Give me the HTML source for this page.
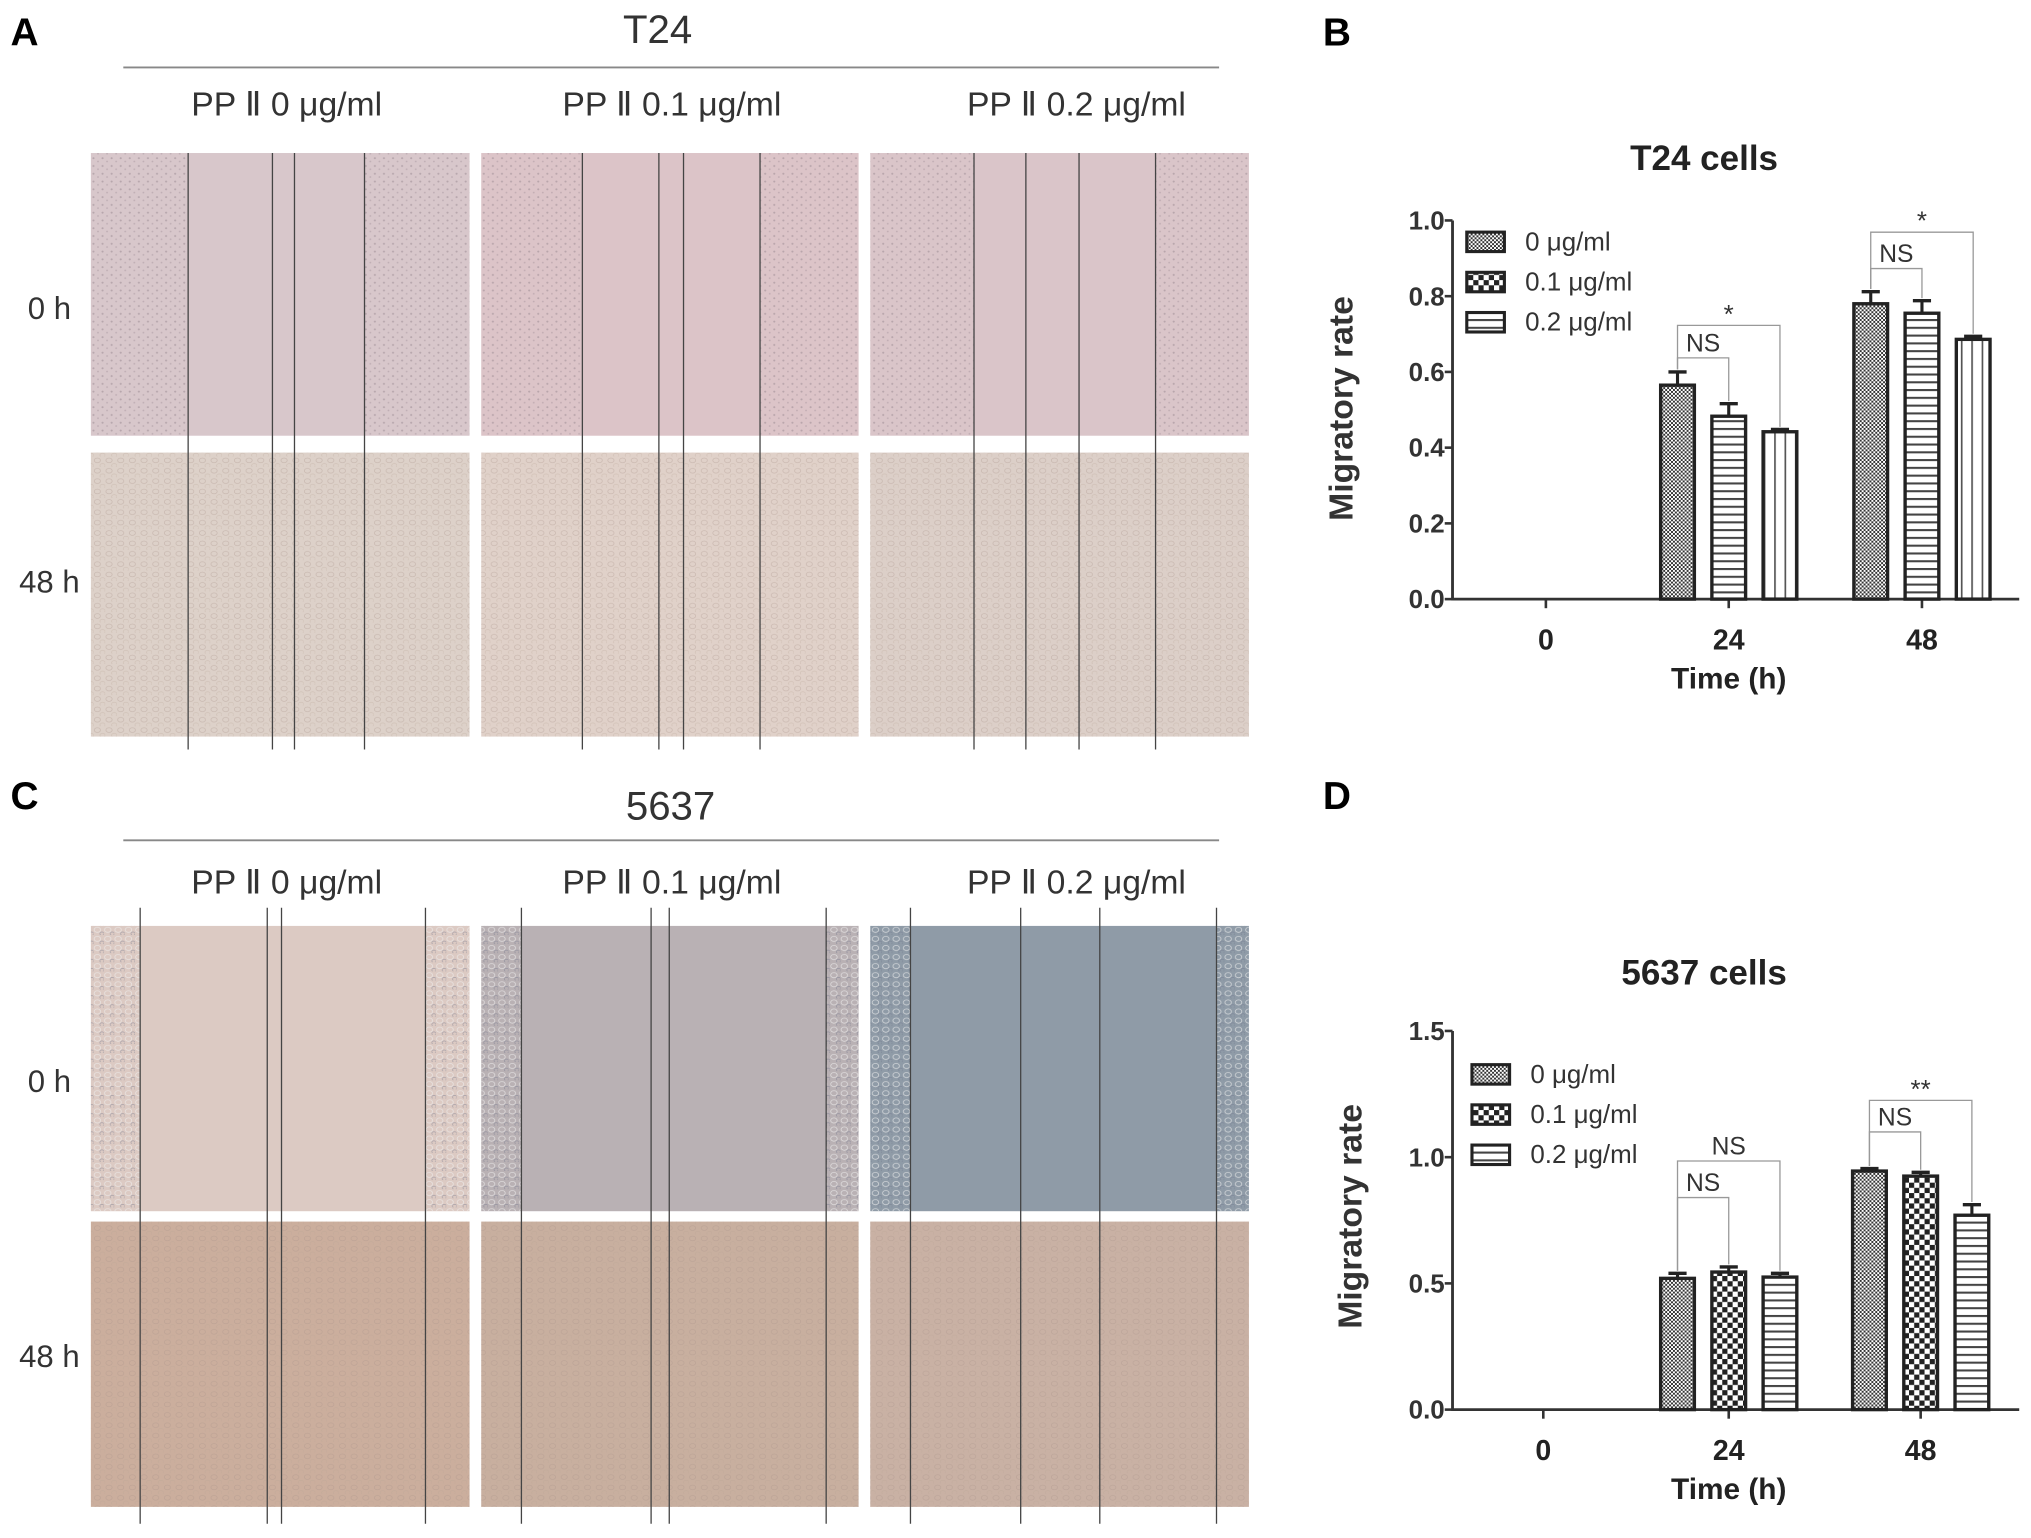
<!DOCTYPE html>
<html><head><meta charset="utf-8"><style>
html,body{margin:0;padding:0;background:#fff;}
svg{display:block;}
text{font-family:"Liberation Sans",Arial,sans-serif;}
</style></head><body>
<svg id="fig" width="2031" height="1538" viewBox="0 0 1566 1186" xmlns="http://www.w3.org/2000/svg">
<defs>
<pattern id="pFine" width="3" height="3" patternUnits="userSpaceOnUse"><rect width="3" height="3" fill="#fff"/><rect width="1.5" height="1.5" fill="#333"/><rect x="1.5" y="1.5" width="1.5" height="1.5" fill="#333"/></pattern>
<pattern id="pCoarse" width="8" height="8" patternUnits="userSpaceOnUse"><rect width="8" height="8" fill="#fff"/><rect width="4" height="4" fill="#222"/><rect x="4" y="4" width="4" height="4" fill="#222"/></pattern>
<pattern id="pHor" width="6" height="6" patternUnits="userSpaceOnUse"><rect width="6" height="6" fill="#fff"/><rect y="0" width="6" height="1.6" fill="#444"/></pattern>
<pattern id="pVer" width="8" height="8" patternUnits="userSpaceOnUse"><rect width="8" height="8" fill="#fff"/><rect x="0" width="1.3" height="8" fill="#555"/></pattern>
<pattern id="cellsA" width="7" height="6" patternUnits="userSpaceOnUse"><circle cx="2" cy="2" r="0.8" fill="#8e7f88" opacity="0.45"/><circle cx="5.5" cy="4.5" r="0.7" fill="#8e7f88" opacity="0.35"/></pattern>
<pattern id="cellsB" width="9" height="8" patternUnits="userSpaceOnUse"><ellipse cx="3" cy="3" rx="2.4" ry="1.8" fill="none" stroke="#a8938a" stroke-width="0.5" opacity="0.45"/><ellipse cx="7" cy="7" rx="2" ry="1.5" fill="none" stroke="#b7a293" stroke-width="0.5" opacity="0.4"/></pattern>
<pattern id="cellsC" width="8" height="7" patternUnits="userSpaceOnUse"><ellipse cx="3" cy="3" rx="2.5" ry="2" fill="none" stroke="#eee" stroke-width="0.6" opacity="0.7"/><ellipse cx="6.5" cy="6" rx="1.6" ry="1.3" fill="none" stroke="#6a6f88" stroke-width="0.5" opacity="0.5"/></pattern>
</defs>

<text x="8" y="35" font-size="30" font-weight="bold">A</text>
<text x="1020" y="35" font-size="30" font-weight="bold">B</text>
<text x="8" y="624" font-size="30" font-weight="bold">C</text>
<text x="1020" y="624" font-size="30" font-weight="bold">D</text>

<g id="panelA"></g>
<g id="panelC"></g>
<g id="chartB"></g>
<g id="chartD"></g>
</svg>
<script>
// ---- Chart B data (T24) ----
const catsB = ["0","24","48"];
const s0B = [0, 0.565, 0.78];
const s1B = [0, 0.483, 0.755];
const s2B = [0, 0.442, 0.686];
const e0B = [0, 0.035, 0.032];
const e1B = [0, 0.033, 0.033];
const e2B = [0, 0.006, 0.008];
const ticksB = ["0.0","0.2","0.4","0.6","0.8","1.0"];
// ---- Chart D data (5637) ----
const catsD = ["0","24","48"];
const s0D = [0, 0.52, 0.945];
const s1D = [0, 0.545, 0.925];
const s2D = [0, 0.525, 0.77];
const e0D = [0, 0.02, 0.01];
const e1D = [0, 0.02, 0.015];
const e2D = [0, 0.015, 0.042];
const ticksD = ["0.0","0.5","1.0","1.5"];
const legendLabels = ["0 μg/ml","0.1 μg/ml","0.2 μg/ml"];

const NS = "http://www.w3.org/2000/svg";
function mk(parent, tag, attrs, txt){
  const e=document.createElementNS(NS,tag);
  for(const k in attrs) e.setAttribute(k,attrs[k]);
  if(txt!==undefined) e.textContent=txt;
  parent.appendChild(e); return e;
}

function drawChart(g, o){
  const y = v => o.y0 - (v/o.ymax)*(o.y0-o.ytop);
  const x = i => o.xt[i];
  let t=mk(g,'text',{x:o.tx,y:o.ty,'font-size':27,'font-weight':'bold','text-anchor':'middle',fill:'#222'},o.title);
  
  
  let ax=mk(g,'line',{x1:o.ax,y1:o.ytop,x2:o.ax,y2:o.y0+1,stroke:'#333','stroke-width':2.2});
  
  
  let xa=mk(g,'line',{x1:o.ax,y1:o.y0,x2:1557,y2:o.y0,stroke:'#333','stroke-width':2.2});
  
  
  o.ticks.forEach(lbl=>{
    const v=parseFloat(lbl), yy=y(v);
    mk(g,'line',{x1:o.ax-6,y1:yy,x2:o.ax,y2:yy,stroke:'#333','stroke-width':2});
    let tl=mk(g,'text',{x:o.ax-6,y:yy+7,'font-size':20,'font-weight':'bold','text-anchor':'end',fill:'#333'},lbl);
    
    
  });
  o.cats.forEach((c,i)=>{
    mk(g,'line',{x1:x(i),y1:o.y0,x2:x(i),y2:o.y0+7,stroke:'#333','stroke-width':2});
    let tl=mk(g,'text',{x:x(i),y:o.y0+39,'font-size':22,'font-weight':'bold','text-anchor':'middle',fill:'#222'},c);
    
    
  });
  let xt=mk(g,'text',{x:1333,y:o.y0+69,'font-size':23,'font-weight':'bold','text-anchor':'middle',fill:'#222'},'Time (h)');
  
  
  let yt=mk(g,'text',{x:0,y:0,'font-size':26,'font-weight':'bold','text-anchor':'middle',fill:'#333',transform:`translate(${o.ylx},${o.yly}) rotate(-90)`},'Migratory rate');
  
  
  const W=26, off=[-39.5,0,39.5];
  o.series.forEach((s,si)=>{
    s.forEach((v,i)=>{
      if(v<=0) return;
      const cx=x(i)+off[si], top=y(v);
      let r=mk(g,'rect',{x:cx-W/2,y:top,width:W,height:o.y0-top,fill:`url(#${o.pats[si]})`,stroke:'#222','stroke-width':2.6});
      
      
      const et=y(v+o.errs[si][i]);
      mk(g,'line',{x1:cx,y1:top,x2:cx,y2:et,stroke:'#222','stroke-width':2.4});
      let eb=mk(g,'line',{x1:cx-7,y1:et,x2:cx+7,y2:et,stroke:'#222','stroke-width':2.6});
      
      
    });
  });
  o.brackets.forEach(b=>{
    const i=b.cat, xa1=x(i)+off[b.a], xb=x(i)+off[b.b], yy=y(b.v);
    const ya=y(o.series[b.a][i]+o.errs[b.a][i])-2, yb=y(o.series[b.b][i]+o.errs[b.b][i])-2;
    let p=mk(g,'path',{d:`M${xa1},${ya} L${xa1},${yy} L${xb},${yy} L${xb},${yb}`,fill:'none',stroke:'#999','stroke-width':1});
    
    
    const star=b.label.includes('*');
    let lt=mk(g,'text',{x:(xa1+xb)/2,y:yy-(star?2:5),'font-size':star?20:19,'text-anchor':'middle',fill:'#333'},b.label);
    
    
  });
  legendLabels.forEach((l,k)=>{
    const ly=o.legY+k*o.legGap;
    let r=mk(g,'rect',{x:o.legX,y:ly-7,width:29,height:15,fill:`url(#${o.legPats[k]})`,stroke:'#222','stroke-width':2.4});
    
    
    let lt=mk(g,'text',{x:o.legX+45,y:ly+7,'font-size':20,fill:'#333'},l);
    
    
  });
}

drawChart(document.getElementById('chartB'),{
  title:'T24 cells',tx:1314,ty:131,ax:1120,ytop:170,y0:462,ymax:1.0,
  xt:[1192,1333,1482],cats:catsB,ticks:ticksB,ylx:1043,yly:315,
  series:[s0B,s1B,s2B],errs:[e0B,e1B,e2B],pats:['pFine','pHor','pVer'],legPats:['pFine','pCoarse','pHor'],
  legX:1131,legY:186,legGap:31,
  brackets:[{cat:1,a:0,b:1,v:0.637,label:'NS'},{cat:1,a:0,b:2,v:0.723,label:'*'},{cat:2,a:0,b:1,v:0.873,label:'NS'},{cat:2,a:0,b:2,v:0.969,label:'*'}]
});
drawChart(document.getElementById('chartD'),{
  title:'5637 cells',tx:1314,ty:759,ax:1120,ytop:795,y0:1087,ymax:1.5,
  xt:[1190,1333,1481],cats:catsD,ticks:ticksD,ylx:1050,yly:938,
  series:[s0D,s1D,s2D],errs:[e0D,e1D,e2D],pats:['pFine','pCoarse','pHor'],legPats:['pFine','pCoarse','pHor'],
  legX:1135,legY:828,legGap:31,
  brackets:[{cat:1,a:0,b:1,v:0.84,label:'NS'},{cat:1,a:0,b:2,v:0.985,label:'NS'},{cat:2,a:0,b:1,v:1.10,label:'NS'},{cat:2,a:0,b:2,v:1.225,label:'**'}]
});

function panel(g, o){
  let t=mk(g,'text',{x:o.tx,y:o.ty,'font-size':31,'text-anchor':'middle',fill:'#333'},o.title);
  
  
  mk(g,'line',{x1:95,y1:o.ly,x2:940,y2:o.ly,stroke:'#888','stroke-width':1.5});
  const conds=['0','0.1','0.2'], lx=[221,518,830];
  conds.forEach((c,i)=>{
    let ct=mk(g,'text',{x:lx[i],y:o.cy,'font-size':26,'text-anchor':'middle',fill:'#333','xml:space':'preserve'},`PP Ⅱ ${c}  μg/ml`);
    
    
  });
  const cols=[[70,362],[371,662],[671,963]];
  o.rows.forEach((r,ri)=>{
    let rl=mk(g,'text',{x:38,y:r.ly,'font-size':24,'text-anchor':'middle',fill:'#333'},ri===0?'0 h':'48 h');
    
    
    cols.forEach((c,ci)=>{
      let im=mk(g,'rect',{x:c[0],y:r.y,width:c[1]-c[0],height:r.h,fill:r.fills[ci]});
      
      
      if(r.full) mk(g,'rect',{x:c[0],y:r.y,width:c[1]-c[0],height:r.h,fill:`url(#${r.pat})`});
      else {
        const L=o.lines[ci];
        mk(g,'rect',{x:c[0],y:r.y,width:L[0]-c[0],height:r.h,fill:`url(#${r.pat})`});
        mk(g,'rect',{x:L[3],y:r.y,width:c[1]-L[3],height:r.h,fill:`url(#${r.pat})`});
      }
    });
  });
  o.lines.forEach(L=>L.forEach(xx=>{
    let l=mk(g,'line',{x1:xx,y1:o.lt,x2:xx,y2:o.lb,stroke:'#444','stroke-width':1});
    
    
  }));
}
panel(document.getElementById('panelA'),{
  title:'T24',tx:507,ty:33,ly:52,cy:89,lt:118,lb:578,
  lines:[[145,210,227,281],[449,508,527,586],[751,791,832,891]],
  rows:[{y:118,h:218,ly:246,fills:['#d8c7cb','#dcc4c8','#dac5c9'],pat:'cellsA',full:false},
        {y:349,h:219,ly:457,fills:['#ddd1c9','#e0d1c9','#dccfc8'],pat:'cellsB',full:true}]
});
panel(document.getElementById('panelC'),{
  title:'5637',tx:517,ty:632,ly:648,cy:689,lt:700,lb:1175,
  lines:[[108,206,217,328],[402,502,516,637],[702,787,848,938]],
  rows:[{y:714,h:220,ly:842,fills:['#dccac3','#b9b1b4','#8f9ba7'],pat:'cellsC',full:false},
        {y:942,h:220,ly:1054,fills:['#cbae9d','#c8af9f','#c9b1a4'],pat:'cellsB',full:true}]
});
</script>
</body></html>
